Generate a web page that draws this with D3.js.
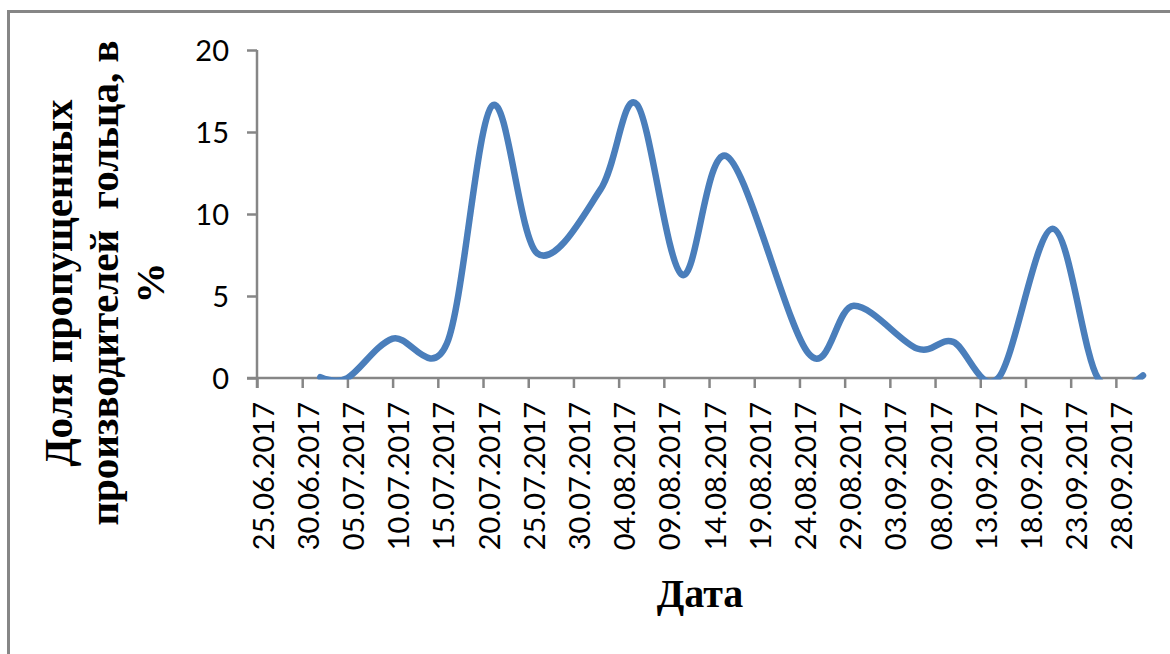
<!DOCTYPE html>
<html>
<head>
<meta charset="utf-8">
<script src="https://cdn.jsdelivr.net/npm/d3@7"></script>
<style>
  html, body { margin: 0; padding: 0; background: #ffffff; }
  svg { display: block; }
</style>
</head>
<body>
<svg id="chart" width="1170" height="654"></svg>
<script>
// Observation dates and share of missed char spawners (%)
const obsDates = ["02.07.2017","05.07.2017","10.07.2017","16.07.2017","21.07.2017","26.07.2017",
  "02.08.2017","06.08.2017","11.08.2017","16.08.2017","25.08.2017","30.08.2017",
  "06.09.2017","10.09.2017","15.09.2017","21.09.2017","26.09.2017","01.10.2017"];
const shareValues = [0.05, 0, 2.4, 2.1, 16.6, 7.6, 11.5, 16.7, 6.3, 13.5, 1.5, 4.4,
  1.8, 2.2, 0, 9.1, 0, 0.15];

const xTickLabels = ["25.06.2017","30.06.2017","05.07.2017","10.07.2017","15.07.2017",
  "20.07.2017","25.07.2017","30.07.2017","04.08.2017","09.08.2017","14.08.2017",
  "19.08.2017","24.08.2017","29.08.2017","03.09.2017","08.09.2017","13.09.2017",
  "18.09.2017","23.09.2017","28.09.2017"];
const xDomainLabels = ["25.06.2017", "01.10.2017"];
const yTicks = [0, 5, 10, 15, 20];

const yTitleLines = ["Доля пропущенных", "производителей  гольца, в", "%"];
const xTitle = "Дата";

const parse = d3.utcParse("%d.%m.%Y");
const svg = d3.select("#chart");

const axisColor = "#868686";
const lineColor = "#4a7ebb";
const tickFont = "Lato, 'Open Sans', sans-serif";
const titleFont = "'Liberation Serif', 'Times New Roman', serif";

const x = d3.scaleUtc()
  .domain(xDomainLabels.map(parse))
  .range([257, 1143]);
const y = d3.scaleLinear()
  .domain([0, 20])
  .range([378, 50]);

// outer frame
svg.append("rect")
  .attr("x", 8.5).attr("y", 11.5)
  .attr("width", 1175).attr("height", 665)
  .attr("fill", "none")
  .attr("stroke", axisColor)
  .attr("stroke-width", 3);

// y axis
const yAxisG = svg.append("g")
  .attr("transform", `translate(${x.range()[0]},0)`)
  .call(d3.axisLeft(y).tickValues(yTicks).tickSize(10).tickSizeOuter(0).tickFormat(d3.format("d")));
yAxisG.select(".domain").attr("stroke", axisColor).attr("stroke-width", 2.5)
  .attr("d", `M0,${y(20)}V${y(0) + 10}`);
yAxisG.selectAll(".tick line").attr("stroke", axisColor).attr("stroke-width", 2.5);
yAxisG.selectAll(".tick text")
  .attr("x", -28)
  .attr("dy", "0.36em")
  .attr("fill", "#000")
  .style("font-family", tickFont)
  .style("font-size", "29px");

// x axis
const xAxisG = svg.append("g")
  .attr("transform", `translate(0,${y(0)})`)
  .call(d3.axisBottom(x).tickValues(xTickLabels.map(parse)).tickSize(10).tickSizeOuter(0)
    .tickFormat(d3.utcFormat("%d.%m.%Y")));
xAxisG.select(".domain").attr("stroke", axisColor).attr("stroke-width", 2.5)
  .attr("d", `M${x.range()[0] - 10},0H${x.range()[1]}`);
xAxisG.selectAll(".tick line").attr("stroke", axisColor).attr("stroke-width", 2.5);
xAxisG.selectAll(".tick text")
  .attr("y", null).attr("dy", null)
  .attr("text-anchor", "end")
  .attr("transform", "translate(16,24) rotate(-90)")
  .attr("fill", "#000")
  .style("font-family", tickFont)
  .style("font-size", "29px");

// clip to the plot area
svg.append("clipPath").attr("id", "plotClip")
  .append("rect")
  .attr("x", x.range()[0] - 20).attr("y", 20)
  .attr("width", x.range()[1] - x.range()[0] + 40)
  .attr("height", y(0) + 1.5 - 20);

// smoothed series line
const points = obsDates.map((d, i) => ({ date: parse(d), value: shareValues[i] }));
const line = d3.line()
  .x(d => x(d.date))
  .y(d => y(d.value))
  .curve(d3.curveCardinal.tension(0));
svg.append("path")
  .datum(points)
  .attr("clip-path", "url(#plotClip)")
  .attr("d", line)
  .attr("fill", "none")
  .attr("stroke", lineColor)
  .attr("stroke-width", 6.5)
  .attr("stroke-linecap", "round")
  .attr("stroke-linejoin", "round");

// y axis title (three lines, rotated)
const yTitle = svg.append("text")
  .attr("transform", "translate(0,283) rotate(-90)")
  .attr("text-anchor", "middle")
  .style("font-family", titleFont)
  .style("font-weight", "bold")
  .style("font-size", "41px")
  .style("white-space", "pre")
  .attr("fill", "#000");
yTitleLines.forEach((t, i) => {
  yTitle.append("tspan")
    .attr("x", 0)
    .attr("y", 72 + i * 46)
    .text(t);
});

// x axis title
svg.append("text")
  .attr("x", (x.range()[0] + x.range()[1]) / 2)
  .attr("y", 607)
  .attr("text-anchor", "middle")
  .style("font-family", titleFont)
  .style("font-weight", "bold")
  .style("font-size", "40px")
  .attr("fill", "#000")
  .text(xTitle);
</script>
</body>
</html>
